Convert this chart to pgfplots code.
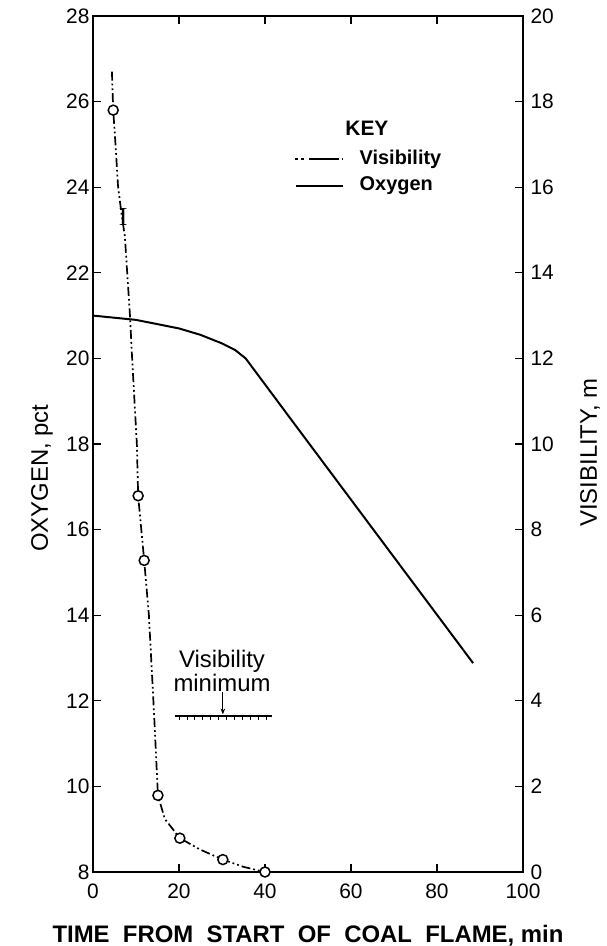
\documentclass[border=0pt]{standalone}
\usepackage{fontspec}
\setmainfont{Liberation Sans}
\newfontfamily\seriffont{Liberation Serif}
\usepackage{pgfplots}
\pgfplotsset{compat=1.18}
\usetikzlibrary{arrows.meta}

\begin{document}
\begin{tikzpicture}
\useasboundingbox (-93bp,-74bp) rectangle (514bp,872bp);
% left axis: oxygen
\begin{axis}[
	at={(0,0)}, anchor=south west,
	scale only axis, width=430bp, height=856bp,
	xmin=0, xmax=100, ymin=8, ymax=28,
	xtick={0,20,...,100}, ytick={8,10,...,28},
	xtick pos=both, ytick pos=left, tick align=inside,
	major tick length=8bp,
	axis line style={line width=2pt},
	every tick/.style={line width=1.3pt, black},
	ticklabel style={font=\fontsize{21}{21}\selectfont},
	xticklabel style={yshift=-8bp},
	/pgf/number format/assume math mode=true,
	xlabel={\bfseries TIME\ \ FROM\ \ START\ \ OF\ \ COAL\ \ FLAME, min},
	xlabel style={font=\fontsize{24}{24}\selectfont, at={(axis description cs:0.5,-0.074)}, anchor=center},
	ylabel={OXYGEN, pct},
	ylabel style={font=\fontsize{24}{24}\selectfont, at={(axis description cs:-0.1186,0.46)}, anchor=center},
	clip=false,
]
	\addplot[black, line width=2pt] coordinates {
		(0,21.0) (10,20.9) (20,20.7) (25,20.55) (30,20.35) (33,20.2) (35.5,20.0) (48.1,18.3) (88.4,12.88)
	};
	% key
	\node[font=\bfseries\fontsize{21}{21}\selectfont] at (axis cs:63.7,25.38) {KEY};
	\draw[line width=1.8pt, dash pattern=on 3bp off 3bp on 3bp off 5bp on 30bp] (axis cs:47.0,24.66) -- (axis cs:58.1,24.66);
	\node[anchor=west, font=\bfseries\fontsize{20}{20}\selectfont] at (axis cs:61.2,24.66) {Visibility};
	\draw[line width=1.8pt] (axis cs:47.2,24.03) -- (axis cs:58.1,24.03);
	\node[anchor=west, font=\bfseries\fontsize{20}{20}\selectfont] at (axis cs:61.2,24.03) {Oxygen};
	% visibility minimum
	\node[align=center, font=\fontsize{24}{24}\selectfont] at (axis cs:30,12.7) {Visibility\\minimum};
	\draw[line width=1.5pt] (axis cs:19,11.65) -- (axis cs:41.6,11.65);
	\pgfplotsinvokeforeach{20,21.85,23.7,25.55,27.4,29.25,31.1,32.95,34.8,36.65,38.5,40.35}{
		\draw[line width=0.9pt] (axis cs:#1,11.65) -- (axis cs:#1,11.55);
	}
	\draw[-{Stealth[length=6bp,width=4.5bp]}, line width=1pt] (axis cs:30.2,12.2) -- (axis cs:30.2,11.68);
	\node[font=\seriffont\fontsize{26}{26}\selectfont] at (axis cs:7,23.3) {I};
\end{axis}
% right axis: visibility
\begin{axis}[
	at={(0,0)}, anchor=south west,
	scale only axis, width=430bp, height=856bp,
	xmin=0, xmax=100, ymin=0, ymax=20,
	axis x line=none, axis y line*=right,
	ytick={0,2,...,20}, tick align=inside,
	major tick length=8bp,
	axis line style={line width=2pt},
	every tick/.style={line width=1.3pt, black},
	ticklabel style={font=\fontsize{21}{21}\selectfont},
	yticklabel style={xshift=4bp},
	/pgf/number format/assume math mode=true,
	ylabel={VISIBILITY, m},
	ylabel style={font=\fontsize{24}{24}\selectfont, at={(axis description cs:1.156,0.49)}, anchor=center},
	clip=false,
]
	\addplot[black, line width=1.7pt, dash pattern=on 9bp off 3bp on 1.8bp off 3bp on 1.8bp off 3bp] coordinates {
		(4.4,18.7) (4.7,17.8) (5.3,16.9) (5.8,16.05) (6.6,15.4) (7.4,14.86) (8.6,13.0)
		(9.1,12.0) (10.2,10.0) (10.5,8.79) (11.9,7.28) (13.0,6.0) (14.2,3.7) (15.1,1.79)
		(16.7,1.24) (20.2,0.79) (25,0.52) (30.2,0.29) (35,0.12) (40,0)
	};
	\addplot[only marks, mark=*, mark size=5bp, mark options={solid, fill=white, draw=black, line width=1.5pt}] coordinates {
		(4.7,17.8) (10.5,8.79) (11.9,7.28) (15.1,1.79) (20.2,0.79) (30.2,0.29) (40,0)
	};
\end{axis}
\end{tikzpicture}
\end{document}
